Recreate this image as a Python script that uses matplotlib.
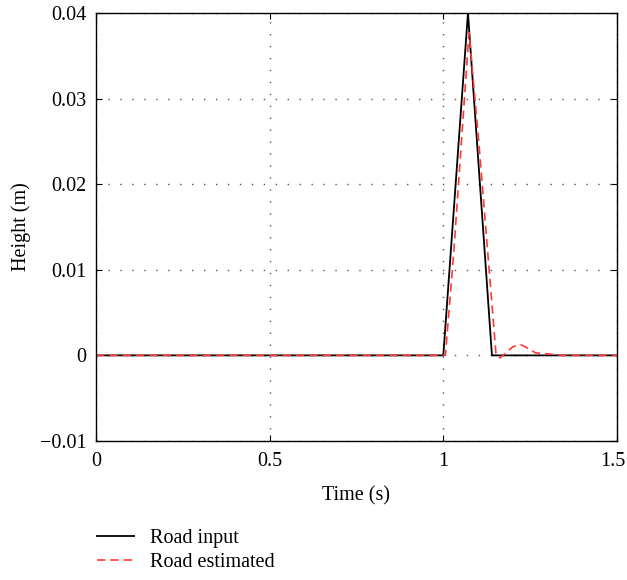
import matplotlib
matplotlib.use("Agg")
import matplotlib.pyplot as plt
import matplotlib.transforms as mtransforms

# road input (triangular bump)
t_input = [0.0, 1.0, 1.071, 1.14, 1.5]
h_input = [0.0, 0.0, 0.040, 0.0, 0.0]

# estimated road profile
t_est = [0.0, 1.0, 1.006, 1.03, 1.074, 1.10, 1.152, 1.163, 1.18, 1.20, 1.221,
         1.245, 1.265, 1.293, 1.32, 1.34, 1.5]
h_est = [0.0, 0.0, 0.0, 0.012, 0.0377, 0.026, 0.0, -0.0003, 0.0003, 0.0010, 0.0013,
         0.0008, 0.0003, 0.0002, 0.0001, 0.0, 0.0]

xticks = [0, 0.5, 1, 1.5]
xtick_labels = ["0", "0.5", "1", "1.5"]
yticks = [-0.01, 0, 0.01, 0.02, 0.03, 0.04]
ytick_labels = ["\u22120.01", "0", "0.01", "0.02", "0.03", "0.04"]

plt.rcParams["font.family"] = ["Liberation Serif", "DejaVu Serif"]
plt.rcParams["font.size"] = 14.5

fig = plt.figure(figsize=(6.27, 5.8), dpi=100)
ax = fig.add_axes([0.1531, 0.2397, 0.8309, 0.7379])

(l1,) = ax.plot(t_input, h_input, color="black", lw=1.3, label="Road input")
(l2,) = ax.plot(t_est, h_est, color="#ff3838", lw=1.2, ls=(0, (5, 3)),
                label="Road estimated")

ax.set_xlim(0, 1.5)
ax.set_ylim(-0.01, 0.04)
ax.set_xticks(xticks)
ax.set_xticklabels(xtick_labels)
ax.set_yticks(yticks)
ax.set_yticklabels(ytick_labels)
ax.tick_params(direction="in", top=True, right=True, length=4)
ax.tick_params(axis="x", pad=8)
ax.tick_params(axis="y", pad=7)
ax.grid(True, color="#555555", ls=(0, (1, 7.6)), lw=1.0)
ax.set_axisbelow(True)
for s in ax.spines.values():
    s.set_linewidth(1.0)

# keep the last x label inside the figure edge
last = ax.get_xticklabels()[-1]
last.set_transform(last.get_transform() +
                   mtransforms.ScaledTranslation(-4 / 100, 0, fig.dpi_scale_trans))

ax.set_xlabel("Time (s)", labelpad=11)
ax.set_ylabel("Height (m)", labelpad=6)

fig.legend(handles=[l1, l2], loc="upper left", bbox_to_anchor=(0.155, 0.088),
           frameon=False, handlelength=1.85, handletextpad=0.75, labelspacing=0.25,
           borderaxespad=0, borderpad=0)

fig.savefig("out.png", dpi=100)
